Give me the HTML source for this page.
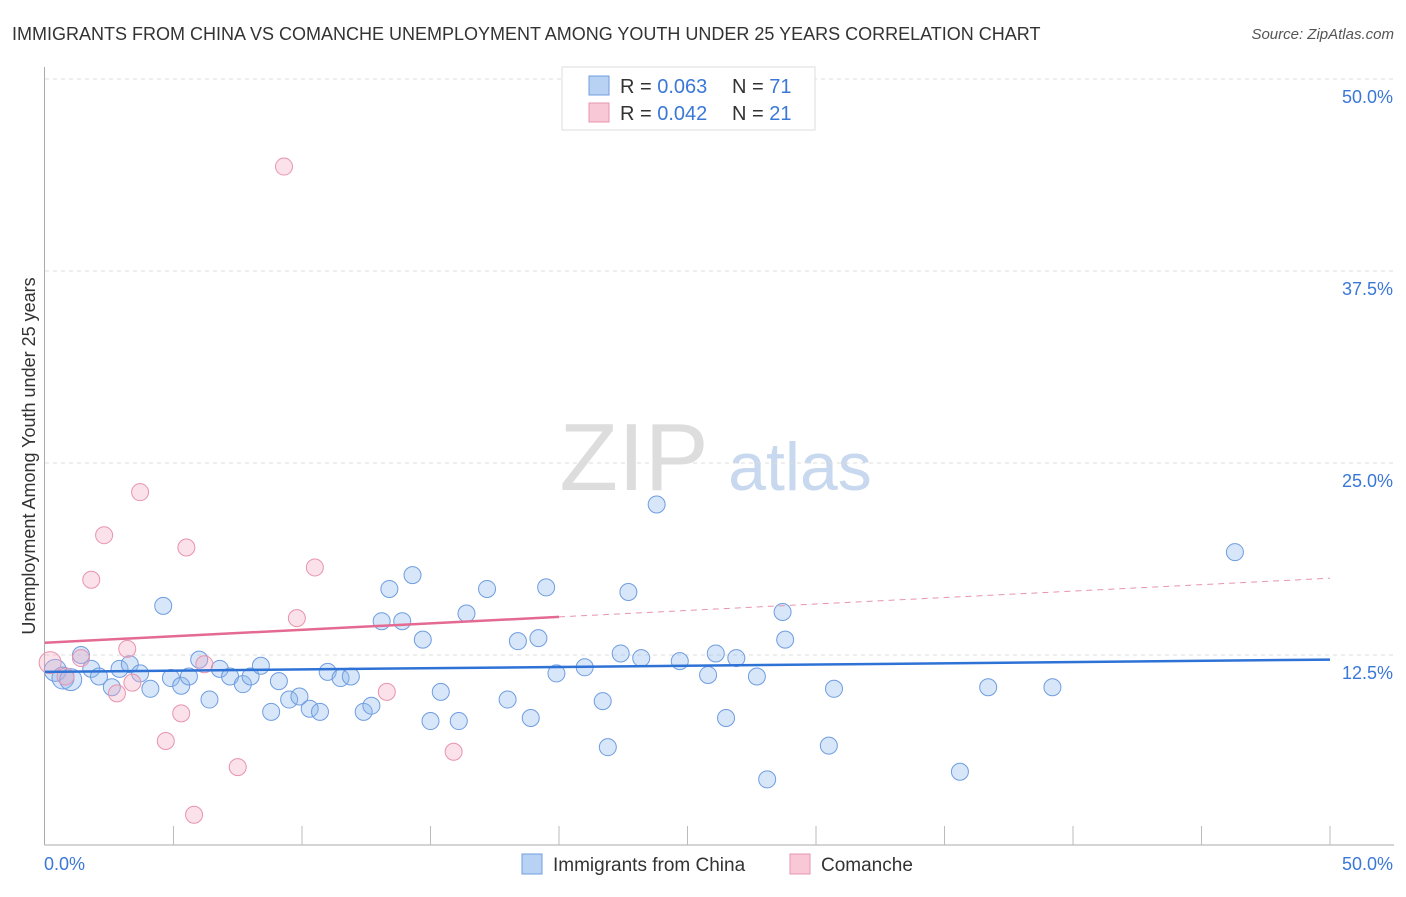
<!DOCTYPE html>
<html><head><meta charset="utf-8"><style>
body{margin:0;background:#fff;font-family:"Liberation Sans",sans-serif}
svg text{font-family:"Liberation Sans",sans-serif}
</style></head><body>
<svg id="chart" width="1406" height="892" xmlns="http://www.w3.org/2000/svg">
<text x="12" y="40" font-size="18" fill="#333">IMMIGRANTS FROM CHINA VS COMANCHE UNEMPLOYMENT AMONG YOUTH UNDER 25 YEARS CORRELATION CHART</text>
<text x="1394" y="39" font-size="15" fill="#555" text-anchor="end" font-style="italic">Source: ZipAtlas.com</text>
<text x="634" y="490" font-size="96" fill="#ddd" font-family="Liberation Serif" text-anchor="middle">ZIP</text>
<text x="800" y="490" font-size="68" fill="#c8d8ee" text-anchor="middle">atlas</text>
<g id="grid"></g>
<g id="axes"></g>
<g id="marks"></g>
<g>
<rect x="562" y="67" width="253" height="63" fill="#fff" stroke="#ddd"/>
<rect x="589" y="76" width="20" height="19" fill="#b8d2f4" stroke="#6f9de0"/>
<rect x="589" y="103" width="20" height="19" fill="#f8c8d6" stroke="#e894ae"/>
<text x="620" y="93" font-size="20" fill="#333">R = <tspan fill="#3a78d8">0.063</tspan></text>
<text x="732" y="93" font-size="20" fill="#333">N = <tspan fill="#3a78d8">71</tspan></text>
<text x="620" y="120" font-size="20" fill="#333">R = <tspan fill="#3a78d8">0.042</tspan></text>
<text x="732" y="120" font-size="20" fill="#333">N = <tspan fill="#3a78d8">21</tspan></text>
</g>
<g>
<rect x="522" y="854" width="20" height="20" fill="#b8d2f4" stroke="#6f9de0"/>
<text x="553" y="871" font-size="19" fill="#333">Immigrants from China</text>
<rect x="790" y="854" width="20" height="20" fill="#f8c8d6" stroke="#e894ae"/>
<text x="821" y="871" font-size="19" fill="#333">Comanche</text>
</g>
<text transform="translate(35,456) rotate(-90)" font-size="18" fill="#333" text-anchor="middle">Unemployment Among Youth under 25 years</text>
</svg>
<script>
const chinaX=[0.4,0.7,1.0,1.4,1.8,2.1,2.6,2.9,3.3,3.7,4.1,4.6,4.9,5.3,5.6,6.0,6.4,6.8,7.2,7.7,8.0,8.4,8.8,9.1,9.5,9.9,10.3,10.7,11.0,11.5,11.9,12.4,12.7,13.1,13.4,13.9,14.3,14.7,15.0,15.4,16.1,16.4,17.2,18.0,18.4,18.9,19.2,19.5,19.9,21.0,21.7,21.9,22.4,22.7,23.2,23.8,24.7,25.8,26.1,26.5,26.9,27.7,28.1,28.7,28.8,30.5,30.7,35.6,36.7,39.2,46.3];
const chinaY=[11.5,11.0,10.9,12.5,11.6,11.1,10.4,11.6,11.9,11.3,10.3,15.7,11.0,10.5,11.1,12.2,9.6,11.6,11.1,10.6,11.1,11.8,8.8,10.8,9.6,9.8,9.0,8.8,11.4,11.0,11.1,8.8,9.2,14.7,16.8,14.7,17.7,13.5,8.2,10.1,8.2,15.2,16.8,9.6,13.4,8.4,13.6,16.9,11.3,11.7,9.5,6.5,12.6,16.6,12.3,22.3,12.1,11.2,12.6,8.4,12.3,11.1,4.4,15.3,13.5,6.6,10.3,4.9,10.4,10.4,19.2];
const comX=[0.2,0.8,1.4,1.8,2.3,2.8,3.2,3.4,3.7,4.7,5.3,5.5,5.8,6.2,7.5,9.3,9.8,10.5,13.3,15.9];
const comY=[12.0,11.1,12.3,17.4,20.3,10.0,12.9,10.7,23.1,6.9,8.7,19.5,2.1,11.9,5.2,44.3,14.9,18.2,10.1,6.2];
const chinaTrend=[11.4,12.2];
const comTrend=[13.3,17.5];
const yTicks=[12.5,25,37.5,50];
const yTickLabels=["12.5%","25.0%","37.5%","50.0%"];
const NS="http://www.w3.org/2000/svg";
const X0=45,X1=1330,Y0=847,Y50=79;
const sx=v=>X0+(v/50)*(X1-X0);
const sy=v=>Y0-(v/50)*(Y0-Y50);
function mk(tag,attrs,parent){const e=document.createElementNS(NS,tag);for(const k in attrs)e.setAttribute(k,attrs[k]);document.getElementById(parent).appendChild(e);return e;}
yTicks.forEach((t,i)=>{
 const l=mk('line',{x1:X0,x2:1394,y1:sy(t),y2:sy(t),stroke:'#ddd','stroke-dasharray':'4,4'},'grid');
 
 
 const tx=mk('text',{x:1393,y:sy(t)+24,'font-size':18,fill:'#3a78d8','text-anchor':'end'},'grid');
 tx.textContent=yTickLabels[i];
 
 
});
let a=mk('line',{x1:44.5,x2:44.5,y1:67,y2:845,stroke:'#aaa'},'axes');


a=mk('line',{x1:44.5,x2:1394,y1:845,y2:845,stroke:'#aaa'},'axes');


for(let i=1;i<=10;i++){const x=sx(i*5);const t=mk('line',{x1:x,x2:x,y1:826,y2:845,stroke:'#bbb'},'axes');
 
 }
let xl=mk('text',{x:44,y:870,'font-size':18,fill:'#3a78d8'},'axes');xl.textContent='0.0%';


xl=mk('text',{x:1393,y:870,'font-size':18,fill:'#3a78d8','text-anchor':'end'},'axes');xl.textContent='50.0%';


chinaX.forEach((v,i)=>{const c=mk('circle',{cx:sx(v),cy:sy(chinaY[i]),r:i<3?11:8.5,fill:'rgba(140,182,236,0.35)',stroke:'#6f9de0','stroke-width':1},'marks');
 
 });
comX.forEach((v,i)=>{const c=mk('circle',{cx:sx(v),cy:sy(comY[i]),r:i<1?11:8.5,fill:'rgba(244,170,195,0.35)',stroke:'#e894ae','stroke-width':1},'marks');
 
 });
let tl=mk('line',{x1:sx(0),y1:sy(chinaTrend[0]),x2:sx(50),y2:sy(chinaTrend[1]),stroke:'#2f72d6','stroke-width':2.5},'marks');


const cAt=v=>comTrend[0]+(comTrend[1]-comTrend[0])*v/50;
tl=mk('line',{x1:sx(0),y1:sy(cAt(0)),x2:sx(20),y2:sy(cAt(20)),stroke:'#e46a92','stroke-width':2.5},'marks');


tl=mk('line',{x1:sx(20),y1:sy(cAt(20)),x2:sx(50),y2:sy(cAt(50)),stroke:'#e894ae','stroke-width':1,'stroke-dasharray':'6,5'},'marks');


</script>
</body></html>
